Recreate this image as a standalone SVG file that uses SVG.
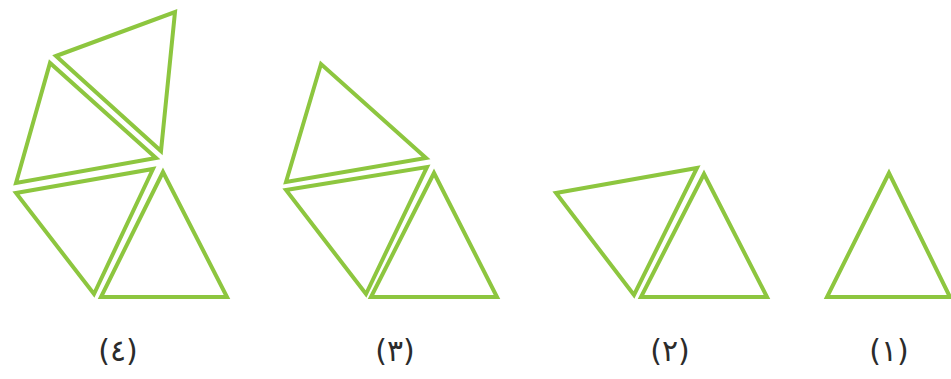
<svg xmlns="http://www.w3.org/2000/svg" width="951" height="379" viewBox="0 0 951 379">
<style>
.tri{fill:none;stroke:#8dc63f;stroke-width:4;stroke-linejoin:miter;stroke-miterlimit:10}
.lbl{font-family:"DejaVu Sans","Noto Sans",sans-serif;font-size:30px;fill:#2b2b2b;text-anchor:middle;letter-spacing:5px}
</style>
<rect width="951" height="379" fill="#ffffff"/>
<g id="fig4">
<polygon class="tri" points="163,172 101,297 227,297"/>
<polygon class="tri" points="16,193 153,169 94,294"/>
<polygon class="tri" points="16,183 50,63 156,158"/>
<polygon class="tri" points="56,56 175,12 161,151"/>
</g>
<g id="fig3">
<polygon class="tri" points="434,173 371,297 497,297"/>
<polygon class="tri" points="286,190 427,167 366,294"/>
<polygon class="tri" points="286,182 321,64 426,158"/>
</g>
<g id="fig2">
<polygon class="tri" points="704,174 641,297 767,297"/>
<polygon class="tri" points="556,193 697,168 634,295"/>
</g>
<g id="fig1">
<polygon class="tri" points="889,173 827,297 950,297"/>
</g>
<g id="labels">
<text class="lbl" x="118" y="361">(٤)</text>
<text class="lbl" x="395" y="361">(٣)</text>
<text class="lbl" x="670" y="361">(٢)</text>
<text class="lbl" x="889" y="361">(١)</text>
</g>
</svg>
